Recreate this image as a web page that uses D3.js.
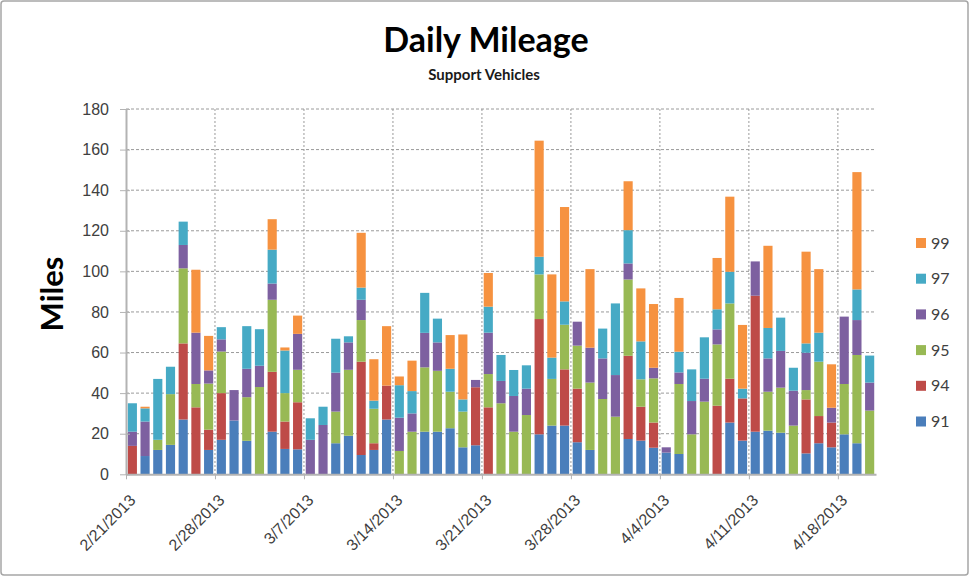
<!DOCTYPE html>
<html>
<head>
<meta charset="utf-8">
<script src="https://cdn.jsdelivr.net/npm/d3@7"></script>
<style>
  body { margin: 0; background: #fff; }
  svg { display: block; font-family: Lato, "Open Sans", sans-serif; }
  .axis path, .axis line { stroke: #b3b3b3; }
  .axis text { fill: #404040; font-size: 16px; }
</style>
</head>
<body>
<script>
// daily categories
const days = [
  "2/21/2013","2/22/2013","2/23/2013","2/24/2013","2/25/2013","2/26/2013","2/27/2013","2/28/2013",
  "3/1/2013","3/2/2013","3/3/2013","3/4/2013","3/5/2013","3/6/2013","3/7/2013","3/8/2013",
  "3/9/2013","3/10/2013","3/11/2013","3/12/2013","3/13/2013","3/14/2013","3/15/2013","3/16/2013",
  "3/17/2013","3/18/2013","3/19/2013","3/20/2013","3/21/2013","3/22/2013","3/23/2013","3/24/2013",
  "3/25/2013","3/26/2013","3/27/2013","3/28/2013","3/29/2013","3/30/2013","3/31/2013",
  "4/1/2013","4/2/2013","4/3/2013","4/4/2013","4/5/2013","4/6/2013","4/7/2013","4/8/2013",
  "4/9/2013","4/10/2013","4/11/2013","4/12/2013","4/13/2013","4/14/2013","4/15/2013","4/16/2013",
  "4/17/2013","4/18/2013","4/19/2013","4/20/2013"
];
const weekTicks = ["2/21/2013","2/28/2013","3/7/2013","3/14/2013","3/21/2013","3/28/2013","4/4/2013","4/11/2013","4/18/2013"];
const yTicks = [0, 20, 40, 60, 80, 100, 120, 140, 160, 180];

// vehicles, bottom of the stack first
const vehicles = ["91", "94", "95", "96", "97", "99"];
const colors = ["#4a7ebb", "#be4b48", "#98b954", "#7d60a0", "#46aac5", "#f69240"];

const v91 = [0,9,12,14.5,27,0,12,17, 26.5,16.5,0,21,12.5,12.3,0,0, 15.3,19,9.5,12,27,0,0,21,
  21,22.7,13.3,14.3,0,0,0,0, 19.7,24,24,15.8,12,0,0, 17.4,16.6,13.1,10.7,10,0,0,0,
  25.5,16.6,21,21.5,20.5,0,10.3,15.3, 13.3,19.7,15.3,0];
const v94 = [14,0,0,0,37.5,33,10,23, 0,0,0,29.5,13.5,23.2,0,0, 0,0,46,3.3,16.7,0,0,0,
  0,0,0,28.6,33,0,0,0, 56.8,0,27.7,26.4,0,0,0, 41,16.7,12.4,0,0,0,0,33.8,
  21.6,20.8,67,0,0,0,26.6,13.4, 12.2,0,0,0];
const v95 = [0,0,5,25,37,11.5,22.7,20.5, 0,21.5,43,35.5,14,16,0,0, 15.6,32.5,20.5,17,0,11.5,21,31.7,
  30,18,17.6,0,16.4,35,21,29.2, 22,23,22,21.2,33.2,37.1,28.4, 37.6,13.5,21.8,0,34.5,19.7,35.8,30.2,
  37.1,0,0,19.2,22.2,24,4.6,26.8, 0,24.8,43.5,31.4];
const v96 = [7,17,0,0,11.5,25.3,6.5,6, 15,14,10.5,8,0,17.7,17,24.3, 19.2,13.5,10,0,0,16.4,9,17,
  14,0,0,3.6,20.4,11,17.6,13, 0,0,0,11.8,17.2,20,20.5, 7.9,0,5.2,2.6,5.7,16.4,11.3,7.4,
  0,0,16.9,16.4,18.1,17.2,18.4,0, 7.3,33.2,17.2,13.8];
const v97 = [14,6.5,30,13.5,11.5,0,0,6, 0,21,18,16.7,21,0,10.6,9, 16.7,3,6,4,0,16,11,19.7,
  11.7,11.3,6,0,12.8,12.8,12.8,11.5, 8.7,10.5,11.5,0,0,14.7,35.3, 16.4,18.7,0,0,10.2,15.6,20.4,9.9,
  15.6,4.8,0,15,16.4,11.3,4.6,14.3, 0,0,15.1,13.3];
const v99 = [0,0.8,0,0,0,31,17,0, 0,0,0,15,1.5,9,0,0, 0,0,27,20.4,29.3,4.3,15,0,
  0,16.6,32,0,16.6,0,0,0, 57.2,41,46.5,0,38.7,0,0, 24.1,26.1,31.4,0,26.5,0,0,25.3,
  37,31.4,0,40.5,0,0,45.2,31.3, 21.4,0,57.8,0];

const width = 970, height = 577;
const plot = {left: 126, right: 876, top: 109, bottom: 474.3};

const rows = days.map((d, i) => ({
  day: d, "91": v91[i], "94": v94[i], "95": v95[i], "96": v96[i], "97": v97[i], "99": v99[i]
}));
const stacked = d3.stack().keys(vehicles)(rows);

const parse = d3.utcParse("%m/%d/%Y");
const x = d3.scaleBand()
  .domain(days)
  .range([plot.left, plot.right])
  .paddingInner(0.28)
  .paddingOuter(0.14);
const xTime = d3.scaleUtc()
  .domain([parse(days[0]), d3.utcDay.offset(parse(days[days.length - 1]), 1)])
  .range([plot.left, plot.right]);
const y = d3.scaleLinear()
  .domain([0, 180])
  .range([plot.bottom, plot.top]);
const color = d3.scaleOrdinal().domain(vehicles).range(colors);

const svg = d3.select(document.body).append('svg')
  .attr('width', width)
  .attr('height', height);

svg.append('rect')
  .attr('x', 1).attr('y', 1)
  .attr('width', width - 3).attr('height', height - 3)
  .attr('rx', 3)
  .attr('fill', '#fff')
  .attr('stroke', '#a6a6a6')
  .attr('stroke-width', 1.5);

// gridlines
svg.append('g')
  .attr('class', 'grid-h')
  .selectAll('line')
  .data(yTicks.slice(1))
  .enter().append('line')
  .attr('x1', plot.left).attr('x2', plot.right)
  .attr('y1', d => y(d)).attr('y2', d => y(d))
  .attr('stroke', '#9a9a9a')
  .attr('stroke-dasharray', '3,2');

svg.append('g')
  .attr('class', 'grid-v')
  .selectAll('line')
  .data(weekTicks.slice(1))
  .enter().append('line')
  .attr('x1', d => xTime(parse(d))).attr('x2', d => xTime(parse(d)))
  .attr('y1', plot.top).attr('y2', plot.bottom)
  .attr('stroke', '#9a9a9a')
  .attr('stroke-dasharray', '2,2');

// bars
svg.append('g')
  .selectAll('g')
  .data(stacked)
  .enter().append('g')
  .attr('fill', d => color(d.key))
  .selectAll('rect')
  .data(d => d)
  .enter().append('rect')
  .attr('x', d => x(d.data.day))
  .attr('width', x.bandwidth())
  .attr('y', d => y(d[1]))
  .attr('height', d => y(d[0]) - y(d[1]));

// axes
const xAxis = d3.axisBottom(xTime)
  .tickValues(weekTicks.map(parse))
  .tickFormat((d, i) => weekTicks[i])
  .tickSizeInner(5)
  .tickSizeOuter(0);
const gx = svg.append('g')
  .attr('class', 'axis axis--x')
  .attr('transform', `translate(0, ${plot.bottom})`)
  .call(xAxis);
gx.select('.domain').attr('stroke-width', 2);
gx.selectAll('text')
  .attr('text-anchor', 'end')
  .attr('x', 0).attr('y', 0).attr('dy', 0)
  .attr('transform', 'translate(10, 27) rotate(-45)');

const yAxis = d3.axisLeft(y)
  .tickValues(yTicks)
  .tickSizeInner(6)
  .tickSizeOuter(0)
  .tickPadding(11);
const gy = svg.append('g')
  .attr('class', 'axis axis--y')
  .attr('transform', `translate(${plot.left}, 0)`)
  .call(yAxis);
gy.select('.domain').attr('stroke-width', 2);
gy.selectAll('.tick line').attr('x1', 4);

// titles
svg.append('text')
  .attr('x', 486).attr('y', 52)
  .attr('text-anchor', 'middle')
  .attr('font-size', 34).attr('font-weight', 'bold')
  .attr('fill', '#000')
  .text('Daily Mileage');
svg.append('text')
  .attr('x', 484).attr('y', 80)
  .attr('text-anchor', 'middle')
  .attr('font-size', 15).attr('font-weight', 'bold')
  .attr('fill', '#1a1a1a')
  .text('Support Vehicles');
svg.append('text')
  .attr('transform', 'translate(63, 294) rotate(-90)')
  .attr('text-anchor', 'middle')
  .attr('font-size', 31).attr('font-weight', 'bold')
  .attr('fill', '#000')
  .text('Miles');

// legend, top entry is the top of the stack
const legend = svg.append('g')
  .attr('class', 'legend')
  .selectAll('g')
  .data(vehicles.slice().reverse())
  .enter().append('g')
  .attr('transform', (d, i) => `translate(916, ${243 + i * 35.7})`);
legend.append('rect')
  .attr('x', 0).attr('y', -5)
  .attr('width', 10).attr('height', 10)
  .attr('fill', d => color(d));
legend.append('text')
  .attr('x', 15).attr('y', 0).attr('dy', '0.35em')
  .attr('font-size', 16)
  .attr('fill', '#404040')
  .text(d => d);
</script>
</body>
</html>
